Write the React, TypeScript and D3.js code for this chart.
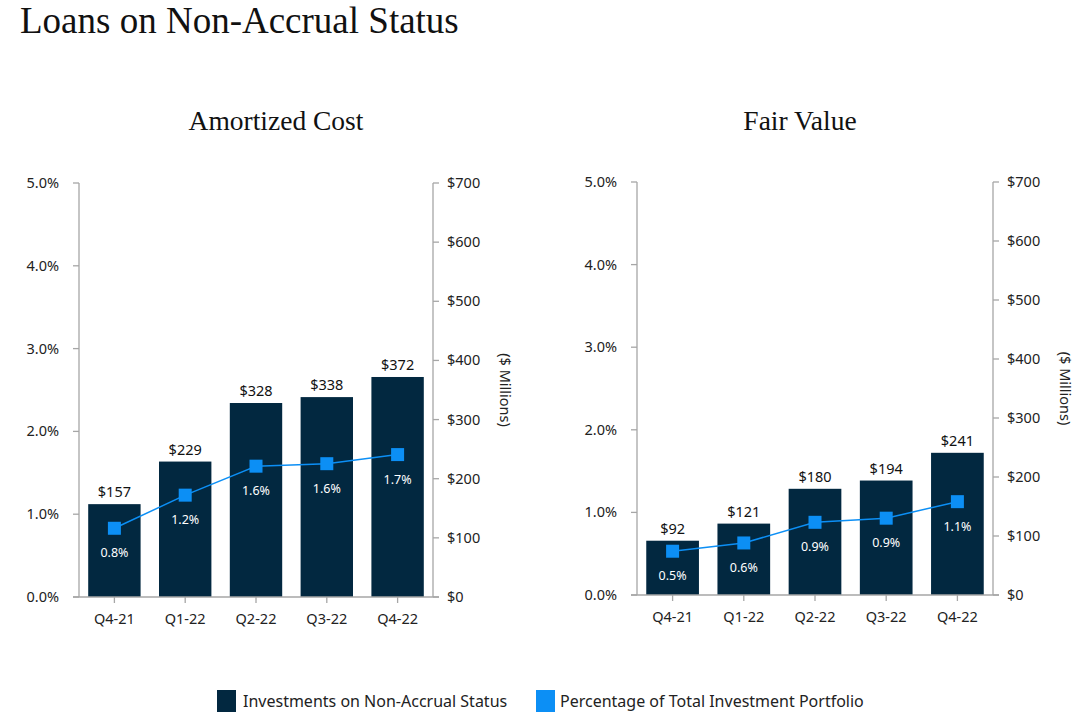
import React from 'react'
import * as d3 from 'd3'

const quarters = ['Q4-21', 'Q1-22', 'Q2-22', 'Q3-22', 'Q4-22']
const amortizedValues = [157, 229, 328, 338, 372]
const amortizedPct = [0.83, 1.23, 1.58, 1.61, 1.72]
const amortizedPctLabels = ['0.8%', '1.2%', '1.6%', '1.6%', '1.7%']
const fairValues = [92, 121, 180, 194, 241]
const fairPct = [0.53, 0.63, 0.88, 0.93, 1.13]
const fairPctLabels = ['0.5%', '0.6%', '0.9%', '0.9%', '1.1%']
const pctTicks = [0, 1, 2, 3, 4, 5]
const dollarTicks = [0, 100, 200, 300, 400, 500, 600, 700]

const NAVY = '#022840'
const BLUE = '#0c8ff5'
const AXIS = '#a6a6a6'
const SANS = "'Noto Sans', 'Open Sans', sans-serif"
const SERIF = "'Liberation Serif', 'DejaVu Serif', serif"

interface PanelProps {
  title: string
  titleX: number
  left: number
  right: number
  top: number
  bottom: number
  values: number[]
  pct: number[]
  pctLabels: string[]
}

function Panel({ title, titleX, left, right, top, bottom, values, pct, pctLabels }: PanelProps) {
  const x = d3.scaleBand().domain(quarters).range([left, right]).paddingInner(0.26).paddingOuter(0.13)
  const yPct = d3.scaleLinear().domain([0, 5]).range([bottom, top])
  const yUsd = d3.scaleLinear().domain([0, 700]).range([bottom, top])
  const cx = (q: string) => x(q)! + x.bandwidth() / 2
  const line = d3
    .line<number>()
    .x((_, i) => cx(quarters[i]))
    .y(d => yPct(d))

  return (
    <g>
      <text x={titleX} y={130} textAnchor="middle" fontFamily={SERIF} fontSize={27.5} fill="#111">
        {title}
      </text>
      {/* bars */}
      {values.map((v, i) => (
        <rect key={i} x={x(quarters[i])} y={yUsd(v)} width={x.bandwidth()} height={bottom - yUsd(v)} fill={NAVY} />
      ))}
      {values.map((v, i) => (
        <text key={'v' + i} x={cx(quarters[i])} y={yUsd(v) - 7} textAnchor="middle" fontFamily={SANS} fontSize={14.5} fill="#111">
          ${v}
        </text>
      ))}
      {/* axes */}
      <line x1={left} x2={left} y1={top} y2={bottom} stroke={AXIS} strokeWidth={1.3} />
      <line x1={right} x2={right} y1={top} y2={bottom} stroke={AXIS} strokeWidth={1.3} />
      <line x1={left - 6} x2={right + 6} y1={bottom} y2={bottom} stroke={AXIS} strokeWidth={1.3} />
      {pctTicks.map(t => (
        <g key={'p' + t}>
          <line x1={left - 6} x2={left} y1={yPct(t)} y2={yPct(t)} stroke={AXIS} strokeWidth={1.3} />
          <text x={left - 20} y={yPct(t) + 5} textAnchor="end" fontFamily={SANS} fontSize={14.5} fill="#222">
            {t.toFixed(1)}%
          </text>
        </g>
      ))}
      {dollarTicks.map(t => (
        <g key={'d' + t}>
          <line x1={right} x2={right + 6} y1={yUsd(t)} y2={yUsd(t)} stroke={AXIS} strokeWidth={1.3} />
          <text x={right + 14} y={yUsd(t) + 5} fontFamily={SANS} fontSize={14.5} fill="#222">
            ${t}
          </text>
        </g>
      ))}
      {quarters.map(q => (
        <g key={q}>
          <line x1={cx(q)} x2={cx(q)} y1={bottom} y2={bottom + 6} stroke={AXIS} strokeWidth={1.3} />
          <text x={cx(q)} y={bottom + 27} textAnchor="middle" fontFamily={SANS} fontSize={14.5} fill="#222">
            {q}
          </text>
        </g>
      ))}
      <text
        transform={`translate(${right + 67},${(top + bottom) / 2}) rotate(90)`}
        textAnchor="middle"
        fontFamily={SANS}
        fontSize={14.5}
        fill="#222"
      >
        ($ Millions)
      </text>
      {/* percentage line */}
      <path d={line(pct)!} fill="none" stroke={BLUE} strokeWidth={1.5} />
      {pct.map((p, i) => (
        <rect key={'m' + i} x={cx(quarters[i]) - 6.5} y={yPct(p) - 6.5} width={13} height={13} fill={BLUE} />
      ))}
      {pct.map((p, i) => (
        <text key={'l' + i} x={cx(quarters[i])} y={yPct(p) + 29} textAnchor="middle" fontFamily={SANS} fontSize={12.5} fill="#fff">
          {pctLabels[i]}
        </text>
      ))}
    </g>
  )
}

export default function App() {
  return (
    <svg width={1080} height={720} style={{ position: 'absolute', left: 0, top: 0, background: '#fff' }}>
      <rect width={1080} height={720} fill="#fff" />
      <text x={20} y={33} fontFamily={SERIF} fontSize={37} fill="#111">
        Loans on Non-Accrual Status
      </text>
      <Panel title="Amortized Cost" titleX={276} left={79} right={433} top={183} bottom={597} values={amortizedValues} pct={amortizedPct} pctLabels={amortizedPctLabels} />
      <Panel title="Fair Value" titleX={800} left={637} right={993} top={182} bottom={595} values={fairValues} pct={fairPct} pctLabels={fairPctLabels} />
      {/* legend */}
      <rect x={217} y={690} width={19} height={22} fill={NAVY} />
      <text x={243} y={707} fontFamily={SANS} fontSize={16} fill="#222">
        Investments on Non-Accrual Status
      </text>
      <rect x={536} y={690} width={19} height={22} fill={BLUE} />
      <text x={560} y={707} fontFamily={SANS} fontSize={16} fill="#222">
        Percentage of Total Investment Portfolio
      </text>
    </svg>
  )
}
